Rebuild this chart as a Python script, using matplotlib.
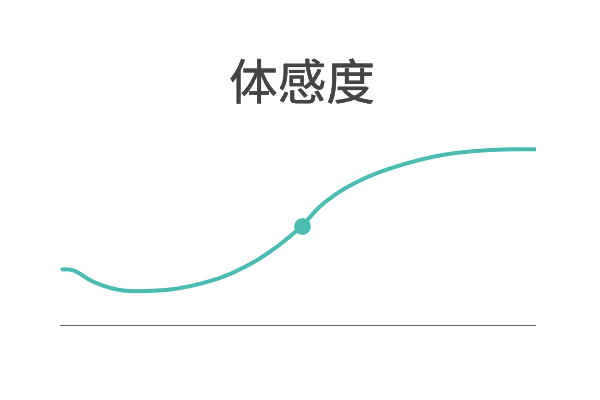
import matplotlib
matplotlib.use("Agg")
import matplotlib.pyplot as plt
from matplotlib.path import Path
from matplotlib.patches import PathPatch
import matplotlib.patheffects as pe
import numpy as np

plt.rcParams['font.family'] = ['Noto Sans CJK SC', 'DejaVu Sans']

title = "体感度"
x_vals = [0.48, 2.52, 6.66, 12.96, 17.86, 23.47, 28.99, 34.66, 37.82, 42.02, 46.22,
          50.78, 54.62, 58.82, 63.03, 67.23, 70.74, 74.22, 77.73, 81.24, 88.24, 95.23, 99.79]
y_vals = [28.35, 28.0, 22.5, 17.85, 17.5, 18.35, 20.85, 25.0, 28.35, 33.85, 40.85,
          50.0, 59.75, 67.25, 72.75, 77.0, 79.8, 82.2, 84.25, 85.85, 87.65, 88.35, 88.35]
marker_x = [50.78]
marker_y = [50.0]

line_color = '#4cbcb2'

fig = plt.figure(figsize=(6, 4), dpi=100)
ax = fig.add_axes([60/600, 74/400, 476/600, 200/400])
ax.set_xlim(0, 100)
ax.set_ylim(0, 100)
ax.axis('off')

# smooth cubic Hermite path through the read points (as Bezier segments)
x = np.asarray(x_vals, float)
y = np.asarray(y_vals, float)
n = len(x)
h = np.diff(x)
d = np.diff(y) / h
m = np.zeros(n)
for i in range(1, n - 1):
    m[i] = (d[i - 1] * h[i] + d[i] * h[i - 1]) / (h[i - 1] + h[i])
verts = [(x[0], y[0])]
codes = [Path.MOVETO]
for i in range(n - 1):
    verts += [(x[i] + h[i] / 3, y[i] + m[i] * h[i] / 3),
              (x[i + 1] - h[i] / 3, y[i + 1] - m[i + 1] * h[i] / 3),
              (x[i + 1], y[i + 1])]
    codes += [Path.CURVE4] * 3
path = Path(verts, codes)
ax.add_patch(PathPatch(path, facecolor='none', edgecolor=line_color, lw=2.9,
                       capstyle='round', joinstyle='round',
                       transform=ax.transData, zorder=3))

ax.plot(marker_x, marker_y, 'o', color=line_color, markersize=11, zorder=4)

ax.axhline(0, color='#6a6a6a', lw=1.5, zorder=2)

fig.text(0.5 + 2/600, 1 - 86/400, title, ha='center', va='center', fontsize=35,
         color='#444444', fontweight='medium',
         path_effects=[pe.withStroke(linewidth=0.35, foreground='#444444')])

fig.savefig('out.png', dpi=100, facecolor='white')
